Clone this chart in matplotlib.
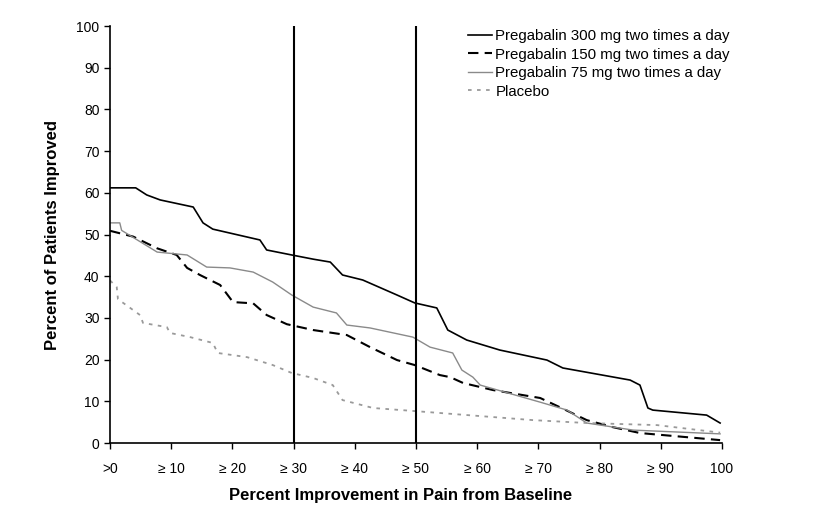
import numpy as np
import matplotlib.pyplot as plt

plt.rcParams['font.family'] = ['Liberation Sans', 'DejaVu Sans']

# percent improvement (x) and percent of patients improved (y)
x300 = [0, 4.2, 6, 8.2, 13.6, 15.2, 16.8, 24.5, 25.6, 29.7, 33.2, 36, 38, 41.3,
        46.9, 49.8, 53.4, 55.2, 58.3, 63.7, 71.4, 74, 85, 86.6, 87.9, 88.7, 97.5, 99.7]
y300 = [61.2, 61.2, 59.5, 58.3, 56.6, 52.8, 51.3, 48.7, 46.3, 45.1, 44.1, 43.4, 40.3, 39.1,
        35.5, 33.6, 32.4, 27.1, 24.7, 22.3, 19.9, 18.0, 15.1, 13.9, 8.4, 7.9, 6.7, 4.8]

x150 = [0, 3.8, 7.7, 10.9, 12.6, 14.7, 18, 20.1, 23.4, 25.6, 28.9, 33.2, 38.7, 42.5,
        46.9, 49.8, 53.9, 55.6, 57.7, 62.6, 70.3, 73.5, 77.9, 82.2, 86.6, 99.7]
y150 = [50.9, 49.5, 46.7, 45.1, 42.0, 40.3, 37.9, 33.8, 33.5, 30.7, 28.5, 27.1, 25.9, 23.0,
        19.9, 18.7, 16.3, 15.8, 14.4, 12.7, 10.8, 8.6, 5.5, 3.8, 2.4, 0.7]

x75 = [0, 1.6, 1.9, 7.7, 12.6, 15.8, 19.6, 23.4, 26.6, 29.7, 33.2, 37, 38.7, 42.5,
       49.5, 52.3, 56, 57.5, 59.3, 60.5, 70.3, 74.7, 77.9, 85.5, 99.7]
y75 = [52.8, 52.8, 51.0, 45.8, 45.1, 42.2, 42.0, 41.0, 38.6, 35.5, 32.6, 31.2, 28.3, 27.6,
       25.4, 23.0, 21.6, 17.5, 15.8, 13.9, 9.8, 7.9, 4.8, 3.1, 2.2]

xpl = [0, 1.1, 1.3, 3.3, 4.9, 5.4, 9.3, 9.8, 13.1, 16.8, 17.6, 22.4, 26.6, 29.7, 33.2,
       36.4, 38, 43, 49.5, 69.1, 77.9, 89.4, 99.7]
ypl = [39.0, 37.4, 34.5, 32.4, 30.7, 28.8, 27.8, 26.4, 25.4, 24.0, 21.6, 20.6, 18.7, 16.8, 15.6,
       13.9, 10.3, 8.4, 7.7, 5.5, 4.8, 4.3, 2.5]

xticks = [0, 10, 20, 30, 40, 50, 60, 70, 80, 90, 100]
xlabels = ['>0', '≥ 10', '≥ 20', '≥ 30', '≥ 40', '≥ 50', '≥ 60', '≥ 70', '≥ 80', '≥ 90', '100']

fig = plt.figure(figsize=(8.13, 5.11), dpi=100)
ax = fig.add_axes([0.1353, 0.133, 0.7527, 0.816])

ax.plot(x300, y300, color='black', lw=1.2, label='Pregabalin 300 mg two times a day')
ax.plot(x150, y150, color='black', lw=1.5, dashes=(5, 3), label='Pregabalin 150 mg two times a day')
ax.plot(x75, y75, color='#8a8a8a', lw=1.0, label='Pregabalin 75 mg two times a day')
ax.plot(xpl, ypl, color='#9a9a9a', lw=1.3, dashes=(2, 3), label='Placebo')

# reference lines at 30% and 50% improvement
ax.plot([30, 30], [0, 100], color='black', lw=1.5)
ax.plot([50, 50], [0, 100], color='black', lw=1.5)

ax.set_xlim(0, 100)
ax.set_ylim(0, 100)
ax.set_xticks(xticks)
ax.set_xticklabels(xlabels)
ax.set_yticks(np.arange(0, 101, 10))
ax.tick_params(direction='out', length=4, width=1, labelsize=10, colors='black')
ax.tick_params(axis='x', pad=10)
for s in ['top', 'right']:
    ax.spines[s].set_visible(False)
for s in ['left', 'bottom']:
    ax.spines[s].set_linewidth(1.2)

ax.set_xlabel('Percent Improvement in Pain from Baseline', fontsize=12, fontweight='bold')
ax.xaxis.set_label_coords(0.475, -0.108)
ax.set_ylabel('Percent of Patients Improved', fontsize=12, fontweight='bold', labelpad=12)

ax.legend(loc='upper right', bbox_to_anchor=(1.035, 1.025), frameon=False, fontsize=10.8,
          handlelength=1.6, handletextpad=0.25, labelspacing=0.3)

fig.savefig('out.png', dpi=100)
